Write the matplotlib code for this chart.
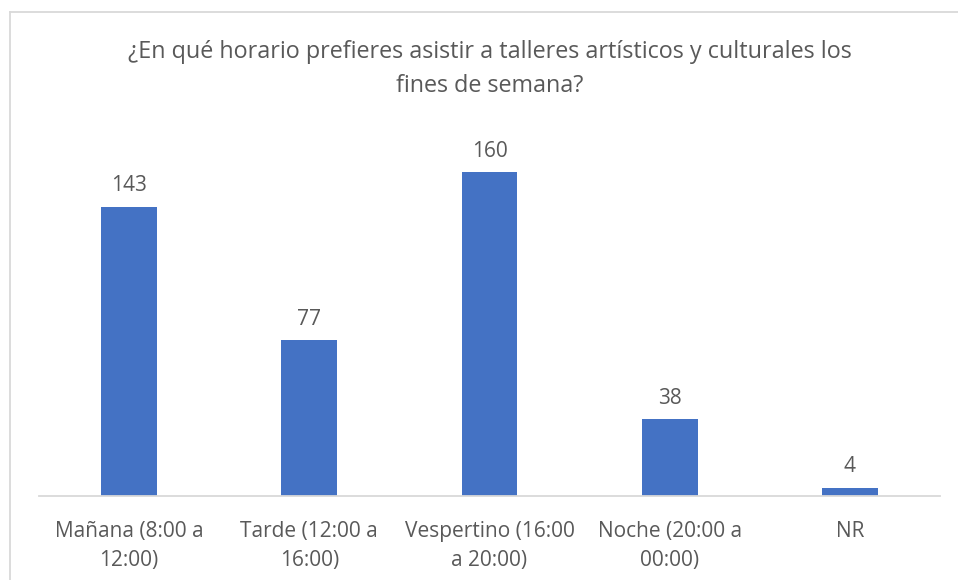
import matplotlib
matplotlib.use("Agg")
import matplotlib.pyplot as plt
from matplotlib.lines import Line2D

categories = ["Mañana (8:00 a\n12:00)", "Tarde (12:00 a\n16:00)", "Vespertino (16:00\na 20:00)",
              "Noche (20:00 a\n00:00)", "NR"]
values = [143, 77, 160, 38, 4]
title = "¿En qué horario prefieres asistir a talleres artísticos y culturales los\nfines de semana?"

plt.rcParams['font.family'] = ['Open Sans', 'DejaVu Sans']
txt = "#595959"
bar_color = "#4472C4"

fig = plt.figure(figsize=(9.58, 5.8), dpi=100)
W, H = 958, 580
ax = fig.add_axes([39 / W, 84 / H, (940 - 39) / W, (496 - 132) / H])
x = list(range(len(categories)))
ax.bar(x, values, width=0.31, color=bar_color, zorder=2)
ax.set_xlim(-0.5, len(categories) - 0.5)
ax.set_ylim(0, 180)
for xi, v in zip(x, values):
    ax.annotate(str(v), (xi, v), xytext=(0, 7.5), textcoords="offset points",
                ha="center", va="bottom", fontsize=15, color=txt)
ax.set_xticks(x)
ax.set_xticklabels(categories, fontsize=15, color=txt, linespacing=1.5)
ax.tick_params(axis="x", length=0, pad=18)
ax.set_yticks([])
for s in ["top", "right", "left"]:
    ax.spines[s].set_visible(False)
ax.spines["bottom"].set_color("#D9D9D9")
ax.spines["bottom"].set_linewidth(1.3)

fig.text(490 / W, 1 - 69 / H, title, ha="center", va="center", fontsize=16.8,
         color=txt, linespacing=1.55)

# chart border
fig.add_artist(Line2D([10 / W, 10 / W], [0, 1 - 12 / H], transform=fig.transFigure,
                      color="#D9D9D9", lw=1.3))
fig.add_artist(Line2D([10 / W, 1], [1 - 12 / H, 1 - 12 / H], transform=fig.transFigure,
                      color="#D9D9D9", lw=1.3))

fig.savefig("out.png", dpi=100)
